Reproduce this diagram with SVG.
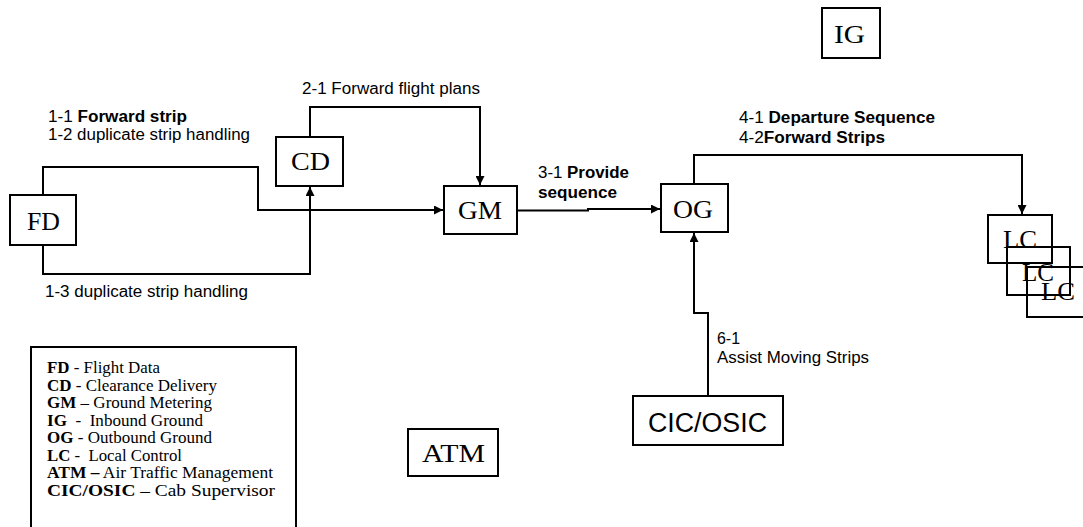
<svg xmlns="http://www.w3.org/2000/svg" width="1083" height="527" viewBox="0 0 1083 527">
<style>
.box{fill:none;stroke:#000;stroke-width:2}
.wbox{fill:#fff;stroke:#000;stroke-width:2}
.nt{font-family:"Liberation Serif","Times New Roman",serif;font-size:26px;fill:#000}
.lbl{font-family:"Liberation Sans",Arial,sans-serif;font-size:16px;fill:#000;white-space:pre}
.leg{font-family:"Liberation Serif","Times New Roman",serif;font-size:17px;fill:#000;white-space:pre}
.b{font-weight:bold}
.con{fill:none;stroke:#000;stroke-width:2}
</style>
<defs>
<marker id="arr" viewBox="0 0 10 10" refX="10" refY="5" markerWidth="10" markerHeight="9" markerUnits="userSpaceOnUse" orient="auto">
<path d="M0,0 L10,5 L0,10 Z" fill="#000"/>
</marker>
</defs>
<g id="connectors">
<path class="con" d="M43,195 V167 H258 V210 H443" marker-end="url(#arr)"/>
<path class="con" d="M43,245 V274 H310 V187" marker-end="url(#arr)"/>
<path class="con" d="M310,137 V107 H480 V185" marker-end="url(#arr)"/>
<path class="con" d="M517,210.5 H588 V209 H660" marker-end="url(#arr)"/>
<path class="con" d="M694,184 V155 H1022 V214" marker-end="url(#arr)"/>
<path class="con" d="M708,396 V313 H694 V233" marker-end="url(#arr)"/>
</g>
<g id="labels">
<text class="lbl" x="48" y="122" textLength="139" lengthAdjust="spacingAndGlyphs">1-1 <tspan class="b">Forward strip</tspan></text>
<text class="lbl" x="48" y="140" textLength="202" lengthAdjust="spacingAndGlyphs">1-2 duplicate strip handling</text>
<text class="lbl" x="45" y="297" textLength="203" lengthAdjust="spacingAndGlyphs">1-3 duplicate strip handling</text>
<text class="lbl" x="302" y="94" textLength="178" lengthAdjust="spacingAndGlyphs">2-1 Forward flight plans</text>
<text class="lbl" x="538" y="178" textLength="91" lengthAdjust="spacingAndGlyphs">3-1 <tspan class="b">Provide</tspan></text>
<text class="lbl b" x="538" y="198" textLength="79" lengthAdjust="spacingAndGlyphs">sequence</text>
<text class="lbl" x="739" y="123" textLength="196" lengthAdjust="spacingAndGlyphs">4-1 <tspan class="b">Departure Sequence</tspan></text>
<text class="lbl" x="739" y="143" textLength="146" lengthAdjust="spacingAndGlyphs">4-2<tspan class="b">Forward Strips</tspan></text>
<text class="lbl" x="717" y="344" textLength="23" lengthAdjust="spacingAndGlyphs">6-1</text>
<text class="lbl" x="717" y="363" textLength="152" lengthAdjust="spacingAndGlyphs">Assist Moving Strips</text>
</g>
<g id="node-FD"><rect class="wbox" x="10" y="195" width="66" height="50"/><text class="nt" x="27" y="230" textLength="33" lengthAdjust="spacingAndGlyphs">FD</text></g>
<g id="node-CD"><rect class="wbox" x="276" y="137" width="67" height="49"/><text class="nt" x="291" y="170" textLength="39" lengthAdjust="spacingAndGlyphs">CD</text></g>
<g id="node-GM"><rect class="wbox" x="444" y="186" width="73" height="48"/><text class="nt" x="458" y="219" textLength="44" lengthAdjust="spacingAndGlyphs">GM</text></g>
<g id="node-OG"><rect class="wbox" x="661" y="184" width="67" height="48"/><text class="nt" x="673" y="218" textLength="40" lengthAdjust="spacingAndGlyphs">OG</text></g>
<g id="node-IG"><rect class="wbox" x="822" y="8" width="58" height="50"/><text class="nt" x="834" y="43" textLength="31" lengthAdjust="spacingAndGlyphs">IG</text></g>
<g id="node-ATM"><rect class="wbox" x="408" y="429" width="90" height="47"/><text class="nt" x="422" y="462" textLength="63" lengthAdjust="spacingAndGlyphs">ATM</text></g>
<g id="node-CICOSIC"><rect class="wbox" x="633" y="396" width="150" height="49"/><text x="648" y="432" font-family="Liberation Sans, Arial, sans-serif" font-size="27" textLength="119" lengthAdjust="spacingAndGlyphs">CIC/OSIC</text></g>
<g id="node-LC1"><rect class="box" x="988" y="215" width="64" height="48"/><text class="nt" x="1003" y="248" textLength="34" lengthAdjust="spacingAndGlyphs">LC</text></g>
<g id="node-LC2"><rect class="box" x="1007" y="247" width="63" height="48"/><text class="nt" x="1022" y="281" textLength="32" lengthAdjust="spacingAndGlyphs">LC</text></g>
<g id="node-LC3"><rect class="box" x="1027" y="267" width="70" height="50"/><text class="nt" x="1041" y="300" textLength="34" lengthAdjust="spacingAndGlyphs">LC</text></g>
<g id="legend">
<rect class="box" x="31" y="347" width="265" height="190"/>
<text class="leg" x="47" y="373" textLength="113" lengthAdjust="spacingAndGlyphs"><tspan class="b">FD</tspan> - Flight Data</text>
<text class="leg" x="47" y="390.5" textLength="170" lengthAdjust="spacingAndGlyphs"><tspan class="b">CD</tspan> - Clearance Delivery</text>
<text class="leg" x="47" y="408" textLength="165" lengthAdjust="spacingAndGlyphs"><tspan class="b">GM</tspan> – Ground Metering</text>
<text class="leg" x="47" y="425.5" textLength="156" lengthAdjust="spacingAndGlyphs"><tspan class="b">IG</tspan>  -  Inbound Ground</text>
<text class="leg" x="47" y="443" textLength="165" lengthAdjust="spacingAndGlyphs"><tspan class="b">OG</tspan> - Outbound Ground</text>
<text class="leg" x="47" y="460.5" textLength="135" lengthAdjust="spacingAndGlyphs"><tspan class="b">LC</tspan> -  Local Control</text>
<text class="leg" x="47" y="478" textLength="226" lengthAdjust="spacingAndGlyphs"><tspan class="b">ATM –</tspan> Air Traffic Management</text>
<text class="leg" x="47" y="495.5" textLength="228" lengthAdjust="spacingAndGlyphs"><tspan class="b">CIC/OSIC</tspan> – Cab Supervisor</text>
</g>
</svg>
